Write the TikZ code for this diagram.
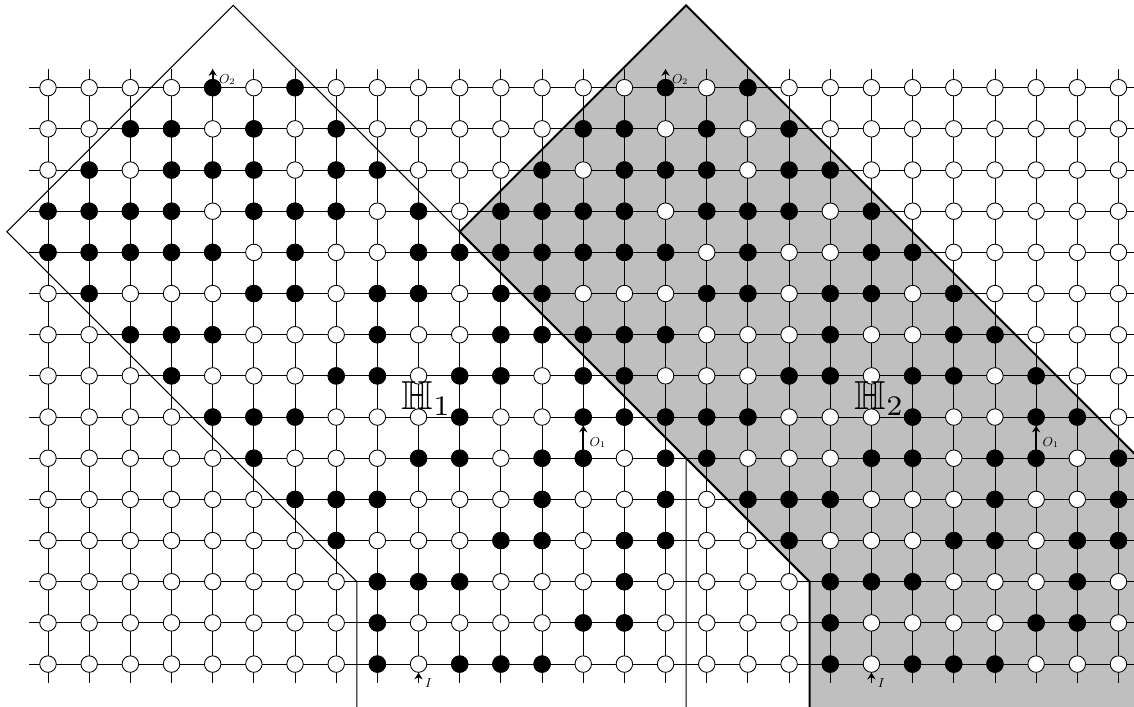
\documentclass[tikz,border=0pt]{standalone}
\usepackage{amsmath}
\usepackage{amssymb}
\usetikzlibrary{arrows.meta, positioning}

\begin{document}
\begin{tikzpicture}[
    site/.style={circle, draw=black, line width=0.6pt, fill=white, minimum size=0.4cm, inner sep=0pt},
    spin/.style={site, fill=black},
    wire/.style={line width=0.6pt},
    region/.style={line width=0.7pt},
    shaded/.style={line width=1.4pt},
    io/.style={-{Stealth[length=1.6mm, width=2mm]}, line width=1.2pt},
    lbl/.style={font=\small, inner sep=0pt, anchor=west},
    big/.style={scale=2.8, inner sep=0pt}
]
\useasboundingbox (-1.166,-15.02) rectangle (26.378,2.13);

\fill[black!25] (15.5,2) -- (10,-3.5) -- (18.5,-12) -- (18.5,-15.5) -- (26.5,-15.5) -- (26.5,-9) -- cycle;

\foreach \r in {0,...,14}
    \draw[wire] (-0.45,-\r) -- (26.45,-\r);
\foreach \c in {0,...,26}
    \draw[wire] (\c,0.45) -- (\c,-14.45);

\draw[region] (4.5,2) -- (-1,-3.5) -- (7.5,-12) -- (7.5,-15.5) -- (15.5,-15.5) -- (15.5,-9) -- cycle;
\draw[shaded] (15.5,2) -- (10,-3.5) -- (18.5,-12) -- (18.5,-15.5) -- (26.5,-15.5) -- (26.5,-9) -- cycle;

\foreach \c in {0,...,26}
    \foreach \r in {0,...,14}
        \node[site] (v-\c-\r) at (\c,-\r) {};

\foreach \r/\cols in {0/{4,6,15,17},
                      1/{2,3,5,7,13,14,16,18},
                      2/{1,3,4,5,7,8,12,14,15,16,18,19},
                      3/{0,1,2,3,5,6,7,9,11,12,13,14,16,17,18,20},
                      4/{0,1,2,3,4,6,9,10,11,12,13,14,15,17,20,21},
                      5/{1,5,6,8,9,11,12,16,17,19,20,22},
                      6/{2,3,4,8,11,12,13,14,15,19,22,23},
                      7/{3,7,8,10,11,13,14,18,19,21,22,24},
                      8/{4,5,6,10,13,14,15,16,17,21,24,25},
                      9/{5,9,10,12,13,15,16,20,21,23,24,26},
                      10/{6,7,8,12,15,17,18,19,23,26},
                      11/{7,11,12,14,15,18,22,23,25,26},
                      12/{8,9,10,14,19,20,21,25},
                      13/{8,13,14,19,24,25},
                      14/{8,10,11,12,19,21,22,23}}
    \foreach \c in \cols
        \node[spin] (s-\c-\r) at (v-\c-\r) {};

\coordinate (o2a) at (4,0.45);
\coordinate (o2b) at (15,0.45);
\coordinate (ia) at (9,-14.45);
\coordinate (ib) at (20,-14.45);

\draw[io] (v-4-0.north) -- (o2a);
\draw[io] (v-15-0.north) -- (o2b);
\draw[io] (v-13-9.north) -- (v-13-8.south);
\draw[io] (v-24-9.north) -- (v-24-8.south);
\draw[io] (ia) -- (v-9-14.south);
\draw[io] (ib) -- (v-20-14.south);

\node[lbl] (lo2a) at (4.15,0.2) {$O_2$};
\node[lbl] (lo2b) at (15.15,0.2) {$O_2$};
\node[lbl] (lo1a) at (13.15,-8.62) {$O_1$};
\node[lbl] (lo1b) at (24.15,-8.62) {$O_1$};
\node[lbl] (lia) at (9.15,-14.46) {$I$};
\node[lbl] (lib) at (20.15,-14.46) {$I$};

\node[big] (h1) at (9.2,-7.55) {$\mathbb{H}_1$};
\node[big] (h2) at (20.2,-7.55) {$\mathbb{H}_2$};

\end{tikzpicture}
\end{document}
